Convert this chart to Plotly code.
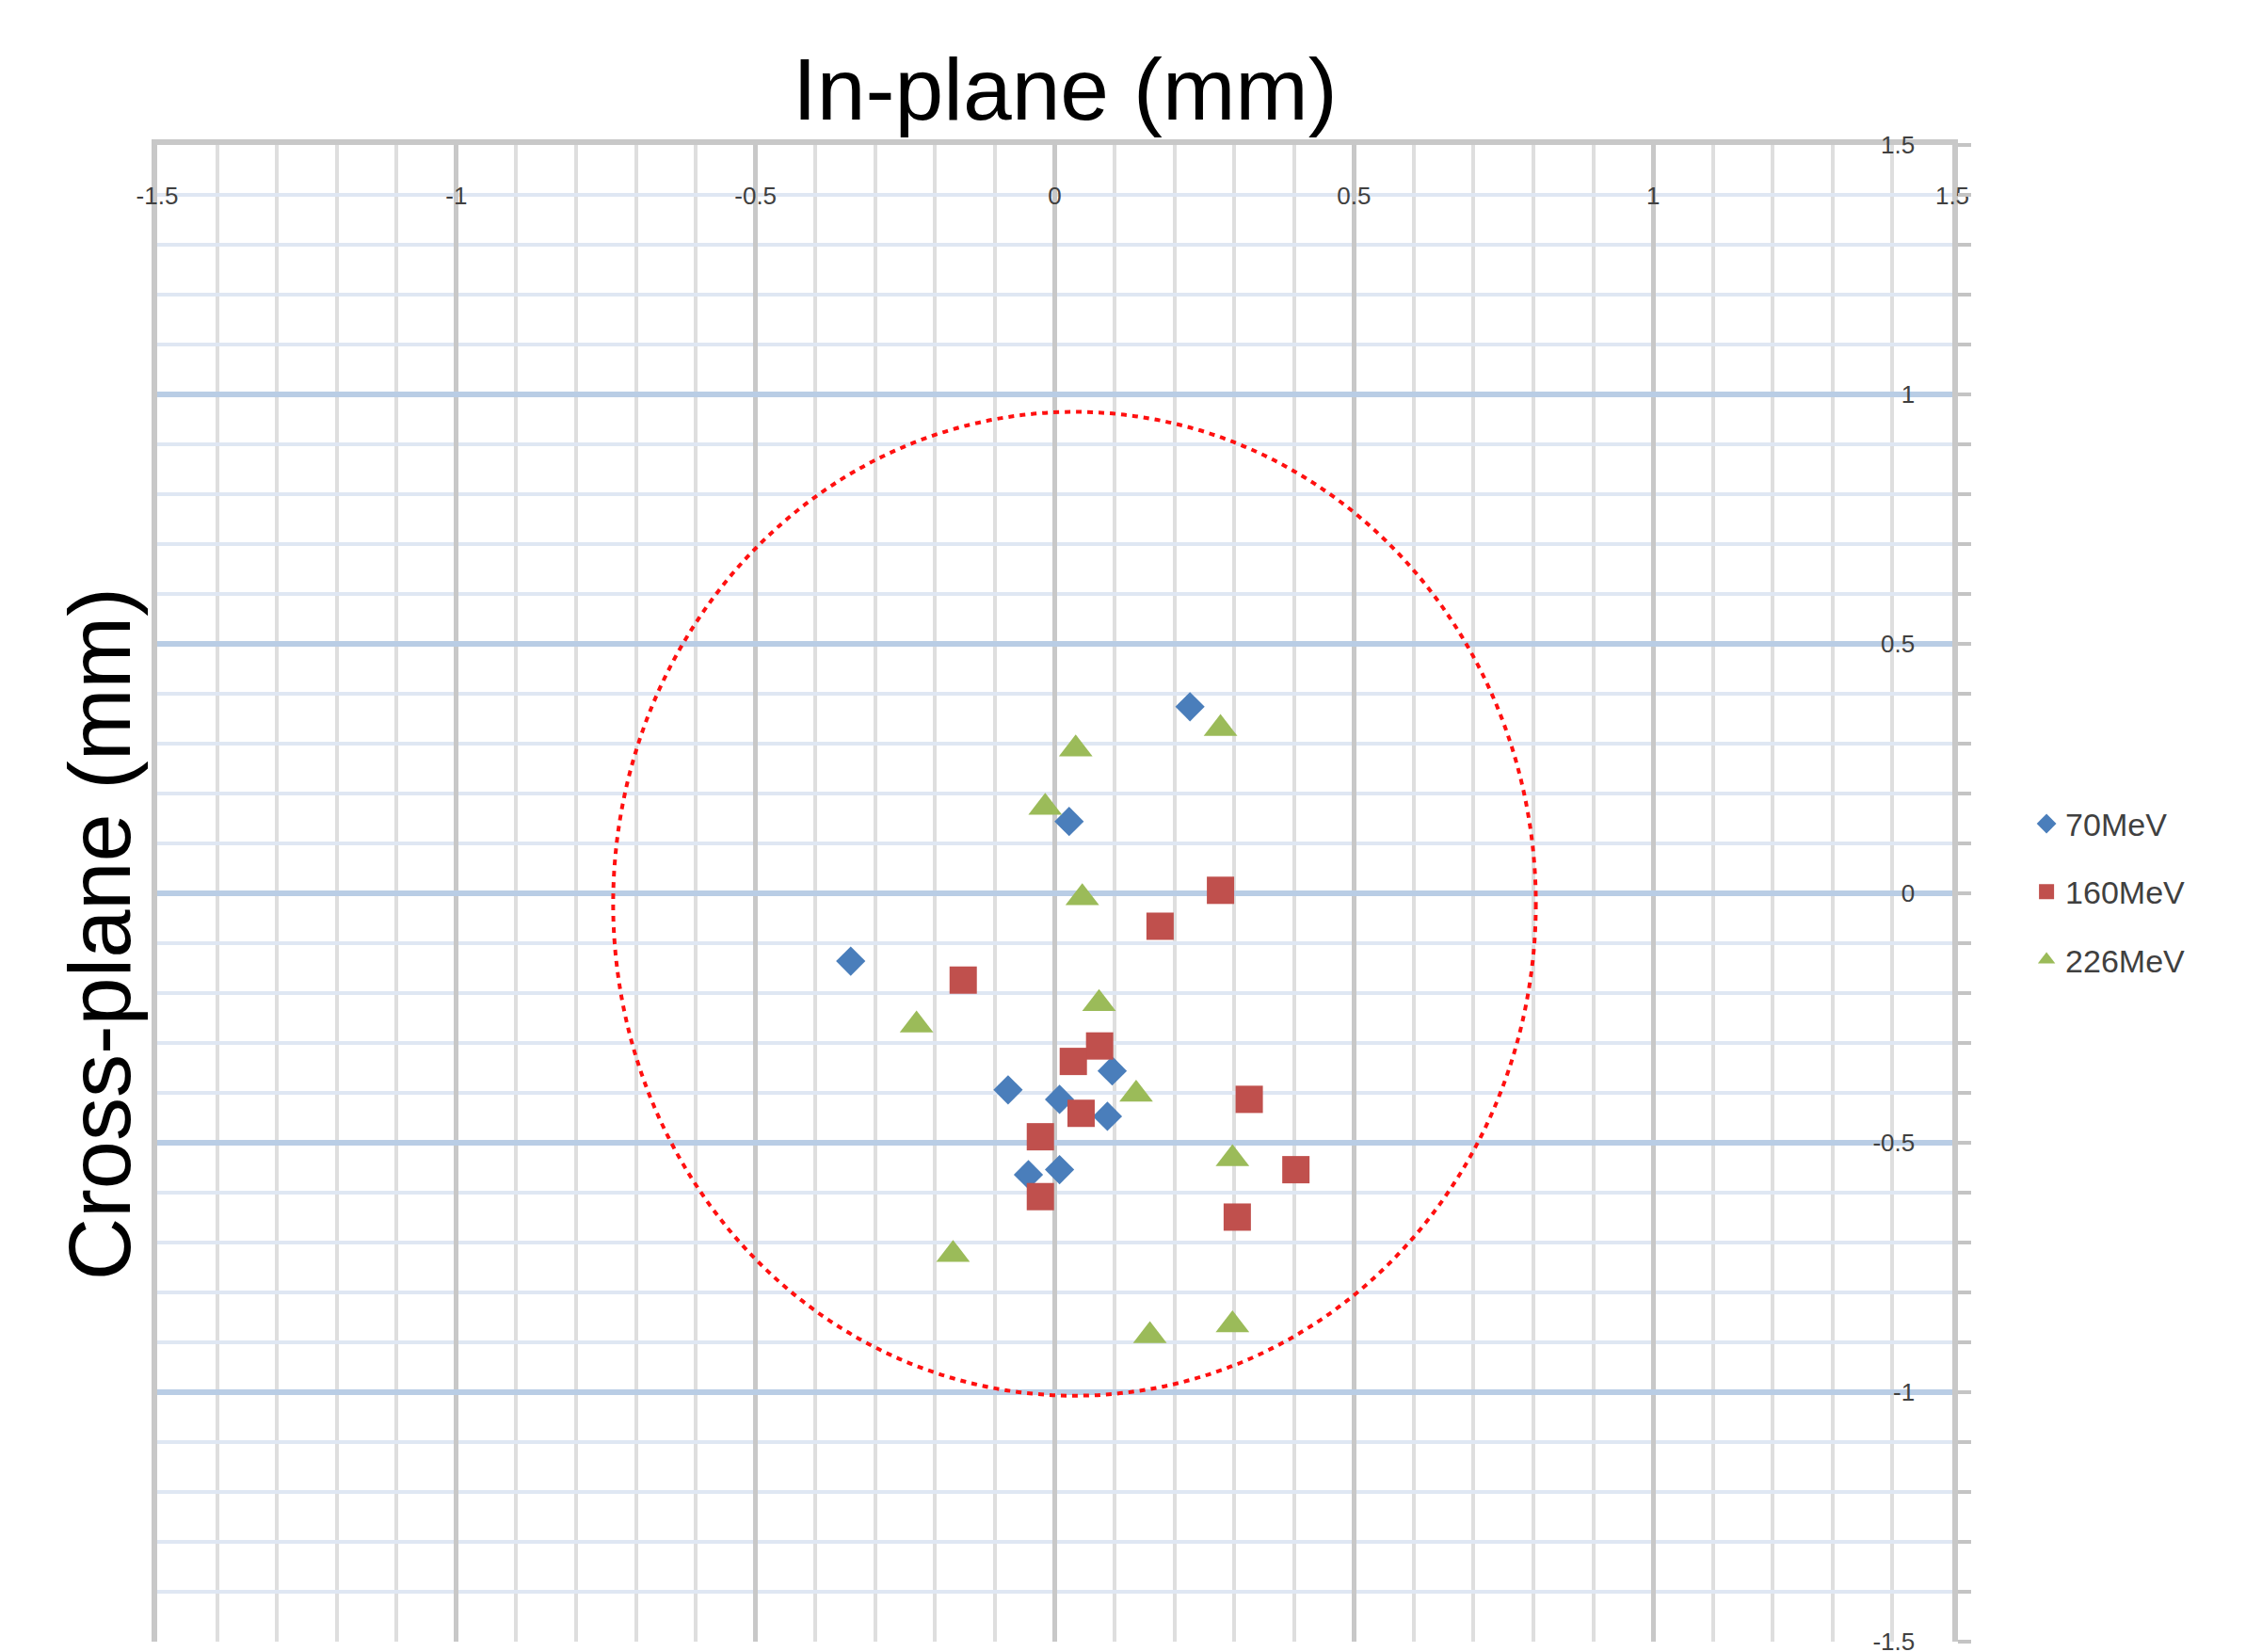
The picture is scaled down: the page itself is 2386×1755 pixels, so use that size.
import plotly.graph_objects as go

# ---- data (mm) ----
x_70 = [0.226, 0.024, -0.341, 0.096, -0.078, 0.008, 0.088, 0.008, -0.044]
y_70 = [0.374, 0.144, -0.136, -0.356, -0.394, -0.413, -0.447, -0.554, -0.564]

x_160 = [0.277, 0.176, -0.153, 0.075, 0.031, 0.044, 0.325, -0.024, -0.024, 0.403, 0.305]
y_160 = [0.006, -0.066, -0.174, -0.306, -0.337, -0.441, -0.413, -0.488, -0.608, -0.554, -0.649]

x_226 = [0.277, 0.035, -0.016, 0.046, 0.074, -0.231, 0.136, 0.297, -0.170, 0.159, 0.297]
y_226 = [0.330, 0.289, 0.172, -0.009, -0.221, -0.264, -0.403, -0.532, -0.724, -0.887, -0.865]

series_names = ["70MeV", "160MeV", "226MeV"]

# tolerance ellipse (centre and radii, mm)
circle_cx, circle_cy = 0.033, -0.021
circle_rx, circle_ry = 0.771, 0.986

tick_vals = [-1.5, -1.0, -0.5, 0.0, 0.5, 1.0, 1.5]
tick_text = ["-1.5", "-1", "-0.5", "0", "0.5", "1", "1.5"]

x_title = "In-plane (mm)"
y_title = "Cross-plane (mm)"

FONT = "Liberation Sans, Arial, sans-serif"

fig = go.Figure()
fig.add_trace(go.Scatter(x=x_70, y=y_70, mode="markers", name=series_names[0],
                         legendgroup="a",
                         marker=dict(symbol="diamond", size=24, color="#4A7EBB",
                                     line=dict(width=0))))
fig.add_trace(go.Scatter(x=x_160, y=y_160, mode="markers", name=series_names[1],
                         legendgroup="b",
                         marker=dict(symbol="square", size=29, color="#C0504D",
                                     line=dict(width=0))))
fig.add_trace(go.Scatter(x=x_226, y=y_226, mode="markers", name=series_names[2],
                         legendgroup="c",
                         marker=dict(symbol="triangle-up", size=31, color="#9BBB59",
                                     line=dict(width=0))))

fig.add_shape(type="circle", xref="x", yref="y",
              x0=circle_cx - circle_rx, x1=circle_cx + circle_rx,
              y0=circle_cy - circle_ry, y1=circle_cy + circle_ry,
              line=dict(color="#FF1010", width=4, dash="6px,6px"))

fig.update_xaxes(
    range=[-1.5, 1.5], side="top", tickmode="array", tickvals=tick_vals, ticktext=tick_text,
    showgrid=True, gridcolor="#C8C8C8", gridwidth=5,
    minor=dict(dtick=0.1, tick0=0, showgrid=True, gridcolor="#DEDEDE", gridwidth=4),
    zeroline=False, showline=True, linecolor="#C8C8C8", linewidth=6,
    ticks="", ticklabelposition="inside", ticklabeloverflow="allow",
    ticklabelstandoff=47,
    tickfont=dict(family=FONT, size=26, color="#404040"),
    automargin=False,
)
fig.update_yaxes(
    range=[-1.5, 1.5], side="right", tickmode="array", tickvals=tick_vals, ticktext=tick_text,
    showgrid=True, gridcolor="#B9CDE5", gridwidth=6,
    minor=dict(dtick=0.1, tick0=0, showgrid=True, gridcolor="#DFE7F3", gridwidth=4,
               ticks="outside", ticklen=14, tickcolor="#C4C4C4", tickwidth=4),
    zeroline=False, showline=True, linecolor="#C8C8C8", linewidth=6, mirror=True,
    ticks="outside", ticklen=14, tickcolor="#C4C4C4", tickwidth=4,
    ticklabelposition="inside", ticklabeloverflow="allow", ticklabelstandoff=42,
    tickfont=dict(family=FONT, size=26, color="#404040"),
    automargin=False,
)

fig.add_annotation(text=x_title, xref="paper", yref="paper", x=0.506, y=1.0,
                   yshift=5, xanchor="center", yanchor="bottom", showarrow=False,
                   font=dict(family=FONT, size=93, color="#000000"))
fig.add_annotation(text=y_title, xref="paper", yref="paper", x=-0.004, y=0.473,
                   xanchor="right", yanchor="middle", textangle=-90, showarrow=False,
                   font=dict(family=FONT, size=92, color="#000000"))

fig.update_layout(
    width=2386, height=1755,
    margin=dict(l=159, r=320, t=146, b=19),
    paper_bgcolor="white", plot_bgcolor="white",
    legend=dict(x=1.042, y=0.501, xanchor="left", yanchor="middle",
                font=dict(family=FONT, size=34, color="#404040"),
                traceorder="grouped", tracegroupgap=25,
                bgcolor="rgba(0,0,0,0)"),
)

fig.write_html("out.html")
